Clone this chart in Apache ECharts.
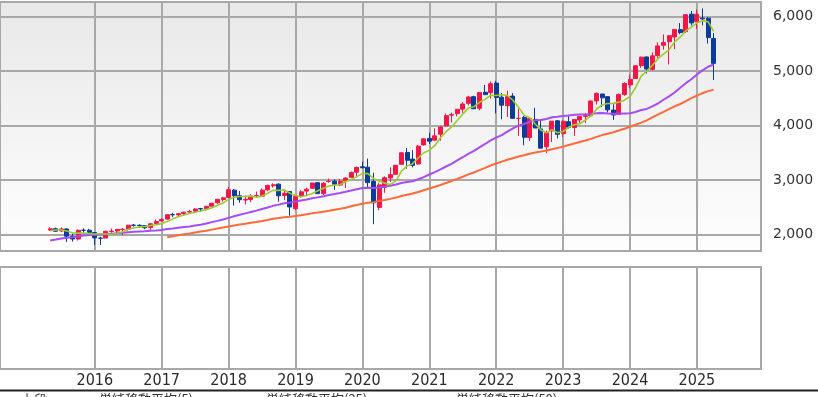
<!DOCTYPE html>
<html><head><meta charset="utf-8">
<script src="https://cdn.jsdelivr.net/npm/echarts@6/dist/echarts.min.js"></script>
<style>html,body{margin:0;padding:0;background:#fff}#c{width:818px;height:397px}</style>
</head><body><div id="c"></div>
<script>
// ---- data (monthly candles) ----
const months = [
 '2015-05','2015-06','2015-07','2015-08','2015-09','2015-10','2015-11','2015-12',
 '2016-01','2016-02','2016-03','2016-04','2016-05','2016-06','2016-07','2016-08','2016-09','2016-10','2016-11','2016-12',
 '2017-01','2017-02','2017-03','2017-04','2017-05','2017-06','2017-07','2017-08','2017-09','2017-10','2017-11','2017-12',
 '2018-01','2018-02','2018-03','2018-04','2018-05','2018-06','2018-07','2018-08','2018-09','2018-10','2018-11','2018-12',
 '2019-01','2019-02','2019-03','2019-04','2019-05','2019-06','2019-07','2019-08','2019-09','2019-10','2019-11','2019-12',
 '2020-01','2020-02','2020-03','2020-04','2020-05','2020-06','2020-07','2020-08','2020-09','2020-10','2020-11','2020-12',
 '2021-01','2021-02','2021-03','2021-04','2021-05','2021-06','2021-07','2021-08','2021-09','2021-10','2021-11','2021-12',
 '2022-01','2022-02','2022-03','2022-04','2022-05','2022-06','2022-07','2022-08','2022-09','2022-10','2022-11','2022-12',
 '2023-01','2023-02','2023-03','2023-04','2023-05','2023-06','2023-07','2023-08','2023-09','2023-10','2023-11','2023-12',
 '2024-01','2024-02','2024-03','2024-04','2024-05','2024-06','2024-07','2024-08','2024-09','2024-10','2024-11','2024-12',
 '2025-01','2025-02','2025-03','2025-04'];
const openP = [
 2087,2108,2067,2104,1970,1919,2081,2082,
 2039,1937,1937,2057,2067,2094,2100,2174,2171,2164,2129,2201,
 2251,2285,2368,2362,2388,2415,2431,2477,2474,2521,2583,2645,
 2683,2816,2715,2633,2643,2718,2705,2821,2897,2926,2717,2790,
 2476,2703,2798,2849,2953,2751,2972,2980,2909,2983,3050,3144,
 3244,3236,2975,2499,2869,3038,3106,3289,3507,3385,3296,3645,
 3764,3732,3842,3993,4191,4217,4300,4407,4529,4317,4610,4602,
 4778,4520,4364,4540,4131,4150,3781,4112,3937,3610,3902,4087,
 3853,4070,3963,4102,4167,4181,4451,4578,4530,4284,4202,4568,
 4745,4862,5098,5258,5030,5283,5471,5537,5624,5758,5723,6041,
 5903,5969,5968,5597];
const highP = [
 2135,2130,2133,2113,2021,2094,2116,2104,
 2039,1962,2073,2111,2104,2121,2178,2193,2188,2170,2214,2278,
 2301,2371,2401,2398,2419,2454,2484,2491,2519,2582,2657,2694,
 2873,2835,2801,2718,2742,2791,2848,2916,2941,2940,2816,2801,
 2709,2813,2861,2950,2955,2965,3028,3014,3022,3050,3156,3248,
 3338,3394,3136,2955,3068,3233,3280,3514,3588,3549,3646,3760,
 3870,3950,3995,4218,4239,4302,4430,4546,4546,4609,4744,4808,
 4819,4596,4637,4594,4307,4177,4140,4325,4120,3906,4080,4101,
 4095,4195,4111,4170,4231,4458,4607,4584,4541,4393,4587,4794,
 4932,5111,5265,5264,5342,5524,5670,5651,5768,5879,6044,6100,
 6128,6147,5986,5695];
const lowP = [
 2068,2056,2045,1867,1872,1893,2019,1993,
 1812,1810,1937,2034,2025,1992,2074,2147,2120,2098,2084,2188,
 2245,2271,2322,2328,2353,2405,2407,2417,2446,2520,2566,2605,
 2683,2533,2586,2554,2595,2691,2699,2796,2864,2603,2631,2347,
 2444,2681,2722,2848,2751,2728,2952,2822,2892,2856,3050,3070,
 3214,2855,2192,2447,2767,2966,3101,3284,3210,3233,3280,3633,
 3663,3725,3723,3989,4057,4165,4233,4368,4306,4279,4560,4495,
 4223,4115,4157,4125,3810,3637,3721,3955,3585,3492,3699,3764,
 3795,3943,3809,4049,4048,4167,4385,4336,4238,4104,4197,4546,
 4682,4853,5057,4954,5012,5234,5391,5120,5402,5674,5697,5833,
 5773,5837,5505,4835];
const closeP = [
 2107,2063,2104,1972,1920,2079,2080,2044,
 1940,1932,2060,2065,2097,2099,2174,2171,2168,2126,2199,2239,
 2279,2364,2363,2384,2412,2423,2470,2472,2519,2575,2648,2674,
 2824,2714,2641,2648,2705,2718,2816,2902,2914,2712,2760,2507,
 2704,2784,2834,2946,2752,2942,2980,2926,2977,3038,3141,3231,
 3226,2954,2585,2912,3044,3100,3271,3500,3363,3270,3622,3756,
 3714,3811,3973,4181,4204,4298,4395,4523,4308,4605,4567,4766,
 4516,4374,4530,4132,4132,3785,4130,3955,3586,3872,4080,3840,
 4077,3970,4109,4169,4180,4450,4589,4508,4288,4194,4568,4770,
 4846,5096,5254,5036,5278,5460,5522,5648,5762,5705,6032,5882,
 6041,5955,5612,5140];
const ma5 = [
 2072,2086,2086,2066,2033,2028,2031,2019,
 2013,2015,2011,2008,2019,2051,2099,2121,2142,2148,2168,2181,
 2202,2241,2289,2326,2360,2389,2410,2432,2459,2492,2537,2578,
 2648,2687,2700,2700,2706,2685,2706,2758,2811,2812,2821,2759,
 2719,2693,2718,2755,2804,2852,2891,2909,2915,2973,3012,3063,
 3123,3118,3027,2982,2944,2919,2982,3165,3256,3301,3405,3502,
 3545,3635,3775,3887,3977,4093,4210,4320,4346,4426,4480,4554,
 4552,4566,4551,4464,4337,4191,4142,4027,3918,3866,3925,3867,
 3891,3968,4015,4033,4101,4176,4299,4379,4403,4406,4429,4466,
 4533,4695,4907,5000,5102,5225,5310,5389,5534,5619,5734,5806,
 5884,5923,5904,5726];
const ma25 = [
 1894,1911,1931,1942,1954,1970,1983,1992,
 1996,2002,2010,2018,2026,2033,2042,2051,2058,2064,2071,2078,
 2087,2102,2112,2125,2138,2150,2167,2181,2203,2229,2252,2276,
 2307,2338,2366,2390,2416,2440,2469,2498,2528,2550,2575,2587,
 2606,2626,2645,2668,2683,2704,2726,2745,2765,2786,2808,2832,
 2854,2859,2854,2865,2880,2896,2918,2946,2964,2978,3015,3055,
 3103,3147,3195,3249,3299,3361,3419,3481,3536,3601,3662,3727,
 3779,3824,3888,3949,3998,4028,4069,4096,4100,4120,4153,4161,
 4174,4184,4196,4204,4204,4214,4226,4230,4221,4216,4215,4223,
 4226,4249,4284,4305,4350,4404,4473,4534,4606,4691,4777,4849,
 4937,5012,5078,5119];
const ma50 = [
 null,null,null,null,null,null,null,null,
 null,null,null,null,null,null,null,null,null,null,null,null,
 null,1954,1971,1989,2006,2022,2039,2056,2073,2092,2111,2129,
 2150,2167,2184,2200,2217,2233,2251,2270,2290,2304,2320,2329,
 2342,2357,2373,2390,2404,2421,2438,2456,2473,2494,2519,2542,
 2565,2583,2596,2615,2635,2656,2679,2707,2731,2753,2782,2815,
 2845,2877,2910,2947,2984,3022,3062,3104,3140,3183,3224,3268,
 3305,3339,3373,3402,3431,3454,3483,3507,3523,3542,3565,3588,
 3614,3644,3672,3699,3726,3756,3793,3825,3851,3876,3908,3942,
 3977,4014,4054,4096,4150,4201,4250,4301,4351,4395,4449,4501,
 4549,4593,4631,4658];
const yearLabels = ['2016','2017','2018','2019','2020','2021','2022','2023','2024','2025'];
const yTicks = [2000,3000,4000,5000,6000];
const padBefore = ['2014-08','2014-09','2014-10','2014-11','2014-12','2015-01','2015-02','2015-03','2015-04'];
const padAfter = ['2025-05','2025-06','2025-07','2025-08','2025-09','2025-10','2025-11','2025-12','2026-01'];
const legendTexts = ['上段:','単純移動平均(5)','単純移動平均(25)','単純移動平均(50)'];

// ---- build ----
const axisMonths = padBefore.concat(months, padAfter);
const off = padBefore.length;
const candleRows = months.map((m,i)=>[i+off, openP[i], closeP[i], lowP[i], highP[i]]);
const lineRows = arr => arr.map((v,i)=>[i+off, v]).filter(r=>r[1]!=null);
const isYearTick = (idx, val) => typeof val === 'string' && val.slice(5)==='01' && yearLabels.indexOf(val.slice(0,4))>=0;

const UP = '#f31748', DOWN = '#0b3b9b', GRIDC = '#a8a8a8';
const GL = -2.37, GW = 766.2, FL = -6, FW = 767;
const chart = echarts.init(document.getElementById('c'), null, {renderer:'canvas'});
const catX = (gi, labels) => ({
  gridIndex: gi, type:'category', data: axisMonths, boundaryGap:false,
  axisLine:{show:false}, axisTick:{show:false},
  axisLabel: labels ? {show:true, interval:isYearTick, formatter:v=>v.slice(0,4), margin:4, color:'#2a2a2a',
     fontSize:16, fontFamily:'"Liberation Sans Narrow","DejaVu Sans Condensed",sans-serif'} : {show:false},
  splitLine:{show:true, interval:isYearTick, lineStyle:{color:GRIDC, width:2}}
});
chart.setOption({
  animation:false,
  backgroundColor:'#ffffff',
  grid:[
    {left:FL, top:2, width:FW, height:249, show:true, borderColor:GRIDC, borderWidth:2,
     backgroundColor:new echarts.graphic.LinearGradient(0,0,0,1,[{offset:0,color:'#e8e8e8'},{offset:1,color:'#fefefe'}])},
    {left:GL, top:2, width:GW, height:249},
    {left:FL, top:267, width:FW, height:102, show:true, borderColor:GRIDC, borderWidth:2, backgroundColor:'#ffffff'},
    {left:GL, top:267, width:GW, height:102}
  ],
  xAxis:[
    {gridIndex:0, type:'value', show:false},
    catX(1,false),
    {gridIndex:2, type:'value', show:false},
    catX(3,true)
  ],
  yAxis:[
    {gridIndex:0, type:'value', position:'right', min:1700, max:6265,
     axisLine:{show:false},
     axisTick:{show:true, length:7, customValues:yTicks, lineStyle:{color:GRIDC, width:1.5}},
     axisLabel:{customValues:yTicks, margin:12, color:'#333', fontSize:14, fontFamily:'"DejaVu Sans",sans-serif',
       formatter:v=>String(v).replace(/\B(?=(\d{3})+(?!\d))/g, ',')},
     splitLine:{show:true, lineStyle:{color:GRIDC, width:2}}},
    {gridIndex:1, type:'value', min:1700, max:6265, show:false, splitLine:{show:false}},
    {gridIndex:2, type:'value', show:false, splitLine:{show:false}},
    {gridIndex:3, type:'value', show:false, splitLine:{show:false}}
  ],
  series:[
    {type:'candlestick', xAxisIndex:1, yAxisIndex:1, data:candleRows,
     dimensions:['idx','open','close','lowest','highest'],
     encode:{x:'idx', y:['open','close','lowest','highest']},
     barWidth:4.5,
     itemStyle:{color:UP, color0:DOWN, borderColor:UP, borderColor0:DOWN, borderWidth:1}},
    {type:'line', xAxisIndex:1, yAxisIndex:1, data:lineRows(ma50), symbol:'none', lineStyle:{color:'#ff6a3a', width:2}, z:3},
    {type:'line', xAxisIndex:1, yAxisIndex:1, data:lineRows(ma25), symbol:'none', lineStyle:{color:'#a64cf5', width:2}, z:3},
    {type:'line', xAxisIndex:1, yAxisIndex:1, data:lineRows(ma5), symbol:'none', lineStyle:{color:'#9bcb2e', width:1.6}, z:3}
  ],
  graphic:[
    {type:'line', shape:{x1:0, y1:390.5, x2:818, y2:390.5}, style:{stroke:'#222', lineWidth:2}},
    {type:'text', x:21, y:393, style:{text:legendTexts[0], fill:'#333', font:'13px "Noto Sans CJK JP"', textVerticalAlign:'top'}},
    {type:'text', x:99, y:393, style:{text:legendTexts[1], fill:'#333', font:'13px "Noto Sans CJK JP"', textVerticalAlign:'top'}},
    {type:'text', x:266, y:393, style:{text:legendTexts[2], fill:'#333', font:'13px "Noto Sans CJK JP"', textVerticalAlign:'top'}},
    {type:'text', x:456, y:393, style:{text:legendTexts[3], fill:'#333', font:'13px "Noto Sans CJK JP"', textVerticalAlign:'top'}}
  ]
});
</script></body></html>
